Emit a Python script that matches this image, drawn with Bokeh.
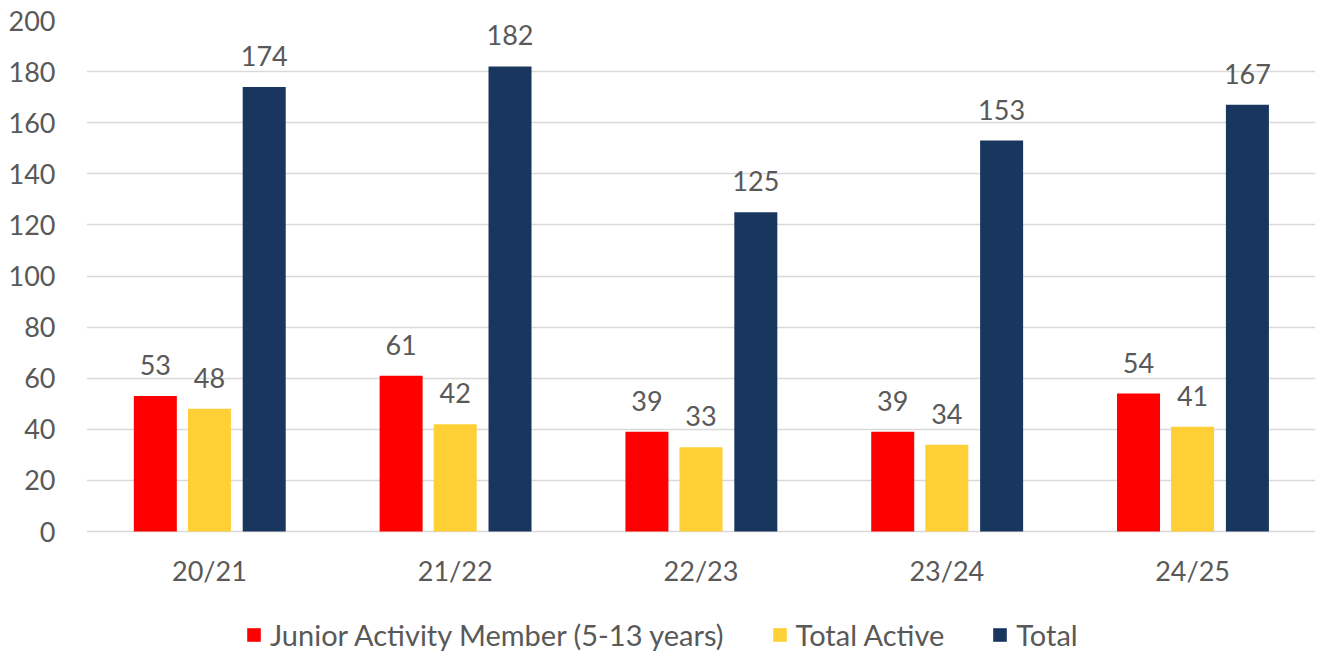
from bokeh.plotting import figure
from bokeh.models import ColumnDataSource, FactorRange, Range1d, FixedTicker, Legend, LegendItem
from bokeh.transform import dodge
from bokeh.core.properties import value
from bokeh.embed import file_html
from bokeh.resources import INLINE

seasons = ["20/21", "21/22", "22/23", "23/24", "24/25"]
junior = [53, 61, 39, 39, 54]
total_active = [48, 42, 33, 34, 41]
total = [174, 182, 125, 153, 167]
series_names = ["Junior Activity Member (5-13 years)", "Total Active", "Total"]
colors = ["#FF0000", "#FFCF36", "#19365E"]
y_ticks = list(range(0, 201, 20))

FONT = "Lato"
TXT = "#595959"
FS = "27px"

src = ColumnDataSource(dict(
    x=seasons,
    base=[0] * len(seasons),
    junior=junior, active=total_active, total=total,
    junior_t=[str(v) for v in junior],
    active_t=[str(v) for v in total_active],
    total_t=[str(v) for v in total],
))

# frame extends below the zero line to hold category labels and legend
Y_TOP = 200
PX_PER_UNIT = 511 / Y_TOP
Y_BOTTOM = -123 / PX_PER_UNIT

p = figure(x_range=FactorRange(*seasons, range_padding=0), y_range=Range1d(Y_BOTTOM, Y_TOP),
           frame_width=1229, frame_height=634, output_backend="svg", toolbar_location=None,
           min_border_left=86, min_border_right=7, min_border_top=20, min_border_bottom=0)
p.outline_line_color = None
p.background_fill_color = "white"
p.border_fill_color = "white"

offsets = [-0.22, 0.0, 0.223]
fields = ["junior", "active", "total"]
renderers = []
for f, off, c in zip(fields, offsets, colors):
    r = p.vbar(x=dodge("x", off, range=p.x_range), top=f, bottom="base", width=0.175, source=src,
               fill_color=c, line_color=None)
    renderers.append(r)
    p.text(x=dodge("x", off, range=p.x_range), y=f, text=f + "_t", source=src,
           text_align="center", text_baseline="alphabetic", y_offset=-31,
           text_font=value(FONT), text_font_size=FS, text_color=TXT)

# category labels
p.text(x="x", y="base", text="x", source=src, text_align="center", text_baseline="middle",
       y_offset=39, text_font=value(FONT), text_font_size=FS, text_color=TXT)

p.xaxis.visible = False
p.yaxis.ticker = FixedTicker(ticks=y_ticks)
p.ygrid.ticker = FixedTicker(ticks=y_ticks)
p.ygrid.grid_line_color = "#D9D9D9"
p.ygrid.grid_line_width = 1.5
p.xgrid.grid_line_color = None
p.yaxis.axis_line_color = None
p.yaxis.major_tick_line_color = None
p.yaxis.minor_tick_line_color = None
p.yaxis.major_label_text_font = FONT
p.yaxis.major_label_text_font_size = FS
p.yaxis.major_label_text_color = TXT
p.yaxis.major_label_standoff = 25

legend = Legend(items=[LegendItem(label=n, renderers=[r]) for n, r in zip(series_names, renderers)],
                orientation="horizontal", location=(159, 2),
                label_text_font=FONT, label_text_font_size="29px", label_text_color=TXT,
                glyph_width=17, glyph_height=17, label_standoff=8, spacing=47,
                border_line_color=None, background_fill_alpha=0, padding=0, margin=0)
p.add_layout(legend, "center")

open("out.html", "w").write(file_html(p, INLINE))
